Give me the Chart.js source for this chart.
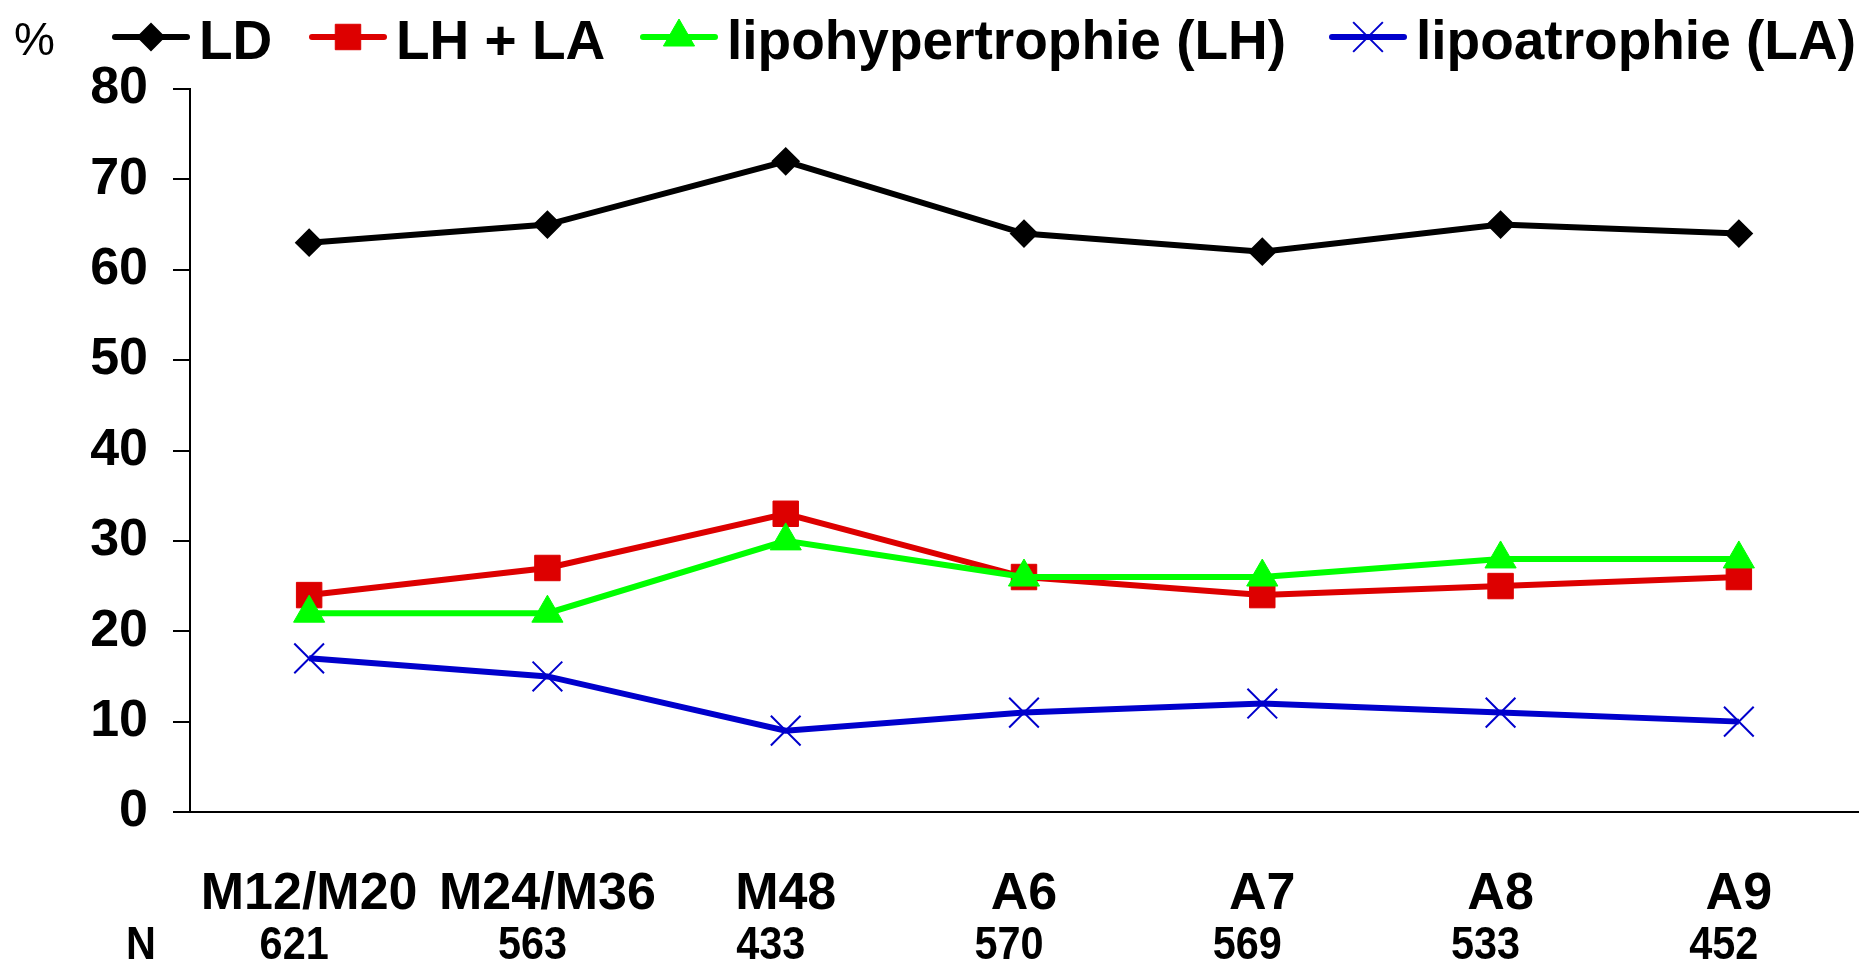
<!DOCTYPE html>
<html>
<head>
<meta charset="utf-8">
<script src="https://cdn.jsdelivr.net/npm/chart.js@4.4.1/dist/chart.umd.min.js"></script>
<style>
body{margin:0;background:#fff;}
#wrap{width:1861px;height:960px;}
</style>
</head>
<body>
<div id="wrap"><canvas id="LineChart"></canvas></div>
<script>
const ctx = document.getElementById('LineChart');

// categories and N per visit
const labels = ['M12/M20', 'M24/M36', 'M48', 'A6', 'A7', 'A8', 'A9'];
const nCounts = [621, 563, 433, 570, 569, 533, 452];

// % of patients
const ld = [63, 65, 72, 64, 62, 65, 64];
const lhla = [24, 27, 33, 26, 24, 25, 26];
const lh = [22, 22, 30, 26, 26, 28, 28];
const la = [17, 15, 9, 11, 12, 11, 10];

const yMin = 0, yMax = 80, yStep = 10;

const FONT = '"Liberation Sans", Arial, sans-serif';

function makeSet(label, data, color, style, radius, pbw, order) {
  return {
    label: label,
    data: data,
    borderColor: color,
    backgroundColor: color,
    pointBackgroundColor: color,
    pointBorderColor: color,
    pointStyle: style,
    pointRadius: radius,
    pointHoverRadius: radius,
    pointBorderWidth: pbw,
    borderWidth: 6,
    tension: 0,
    fill: false,
    order: order
  };
}

// legend row at the top, drawn like the excel one (line + marker)
const legendStarts = [115, 312, 643, 1332];
const topLegend = {
  id: 'topLegend',
  afterDraw(chart) {
    const c = chart.ctx;
    c.save();
    c.fillStyle = '#000';
    c.textBaseline = 'alphabetic';
    c.font = '46px ' + FONT;
    c.fillText('%', 14, 55);
    c.font = 'bold 55px ' + FONT;
    chart.data.datasets.forEach((ds, i) => {
      const x = legendStarts[i];
      c.strokeStyle = ds.borderColor;
      c.lineWidth = 6;
      c.lineCap = 'round';
      c.beginPath();
      c.moveTo(x, 37);
      c.lineTo(x + 72, 37);
      c.stroke();
      c.fillStyle = ds.backgroundColor;
      c.lineWidth = ds.pointBorderWidth;
      c.lineCap = 'butt';
      Chart.helpers.drawPoint(c, {
        pointStyle: ds.pointStyle,
        radius: ds.pointRadius,
        borderWidth: ds.pointBorderWidth,
        rotation: 0
      }, x + 36, 37);
      c.fillStyle = '#000';
      c.fillText(ds.label, x + 84, 59);
    });
    c.restore();
  }
};

// "N" row under the category labels
const nRow = {
  id: 'nRow',
  afterDraw(chart) {
    const c = chart.ctx;
    const xs = chart.scales.x;
    c.save();
    c.fillStyle = '#000';
    c.font = 'bold 46px ' + FONT;
    c.textAlign = 'center';
    c.textBaseline = 'alphabetic';
    const drawNarrow = (txt, cx) => {
      c.save();
      c.translate(cx, 959);
      c.scale(0.9, 1);
      c.fillText(txt, 0, 0);
      c.restore();
    };
    drawNarrow('N', 141);
    nCounts.forEach((n, i) => drawNarrow(String(n), xs.getPixelForValue(i) - 15));
    c.restore();
  }
};

new Chart(ctx, {
  type: 'line',
  data: {
    labels: labels,
    datasets: [
      makeSet('LD', ld, '#000000', 'rectRot', 13, 2, 4),
      makeSet('LH + LA', lhla, '#DD0000', 'rect', 18, 1, 3),
      makeSet('lipohypertrophie (LH)', lh, '#00FF00', 'triangle', 18, 1, 2),
      makeSet('lipoatrophie (LA)', la, '#0000CC', 'crossRot', 21, 2, 1)
    ]
  },
  options: {
    responsive: true,
    maintainAspectRatio: false,
    animation: false,
    layout: {
      autoPadding: false,
      padding: { top: 89, right: 3, left: 0, bottom: 0 }
    },
    plugins: {
      legend: { display: false },
      tooltip: { enabled: false },
      title: { display: false }
    },
    scales: {
      x: {
        offset: true,
        grid: { display: false },
        border: { display: true, color: '#000', width: 2 },
        ticks: {
          color: '#000',
          padding: 43,
          maxRotation: 0,
          autoSkip: false,
          font: { family: FONT, size: 52, weight: 'bold' }
        },
        afterFit(scale) { scale.height = 148; }
      },
      y: {
        min: yMin,
        max: yMax,
        grid: {
          display: true,
          drawOnChartArea: false,
          drawTicks: true,
          tickLength: 17,
          color: '#000',
          lineWidth: 2
        },
        border: { display: true, color: '#000', width: 2 },
        ticks: {
          stepSize: yStep,
          color: '#000',
          padding: 25,
          font: { family: FONT, size: 52, weight: 'bold' }
        },
        afterFit(scale) { scale.width = 190; }
      }
    }
  },
  plugins: [topLegend, nRow]
});
</script>
</body>
</html>
